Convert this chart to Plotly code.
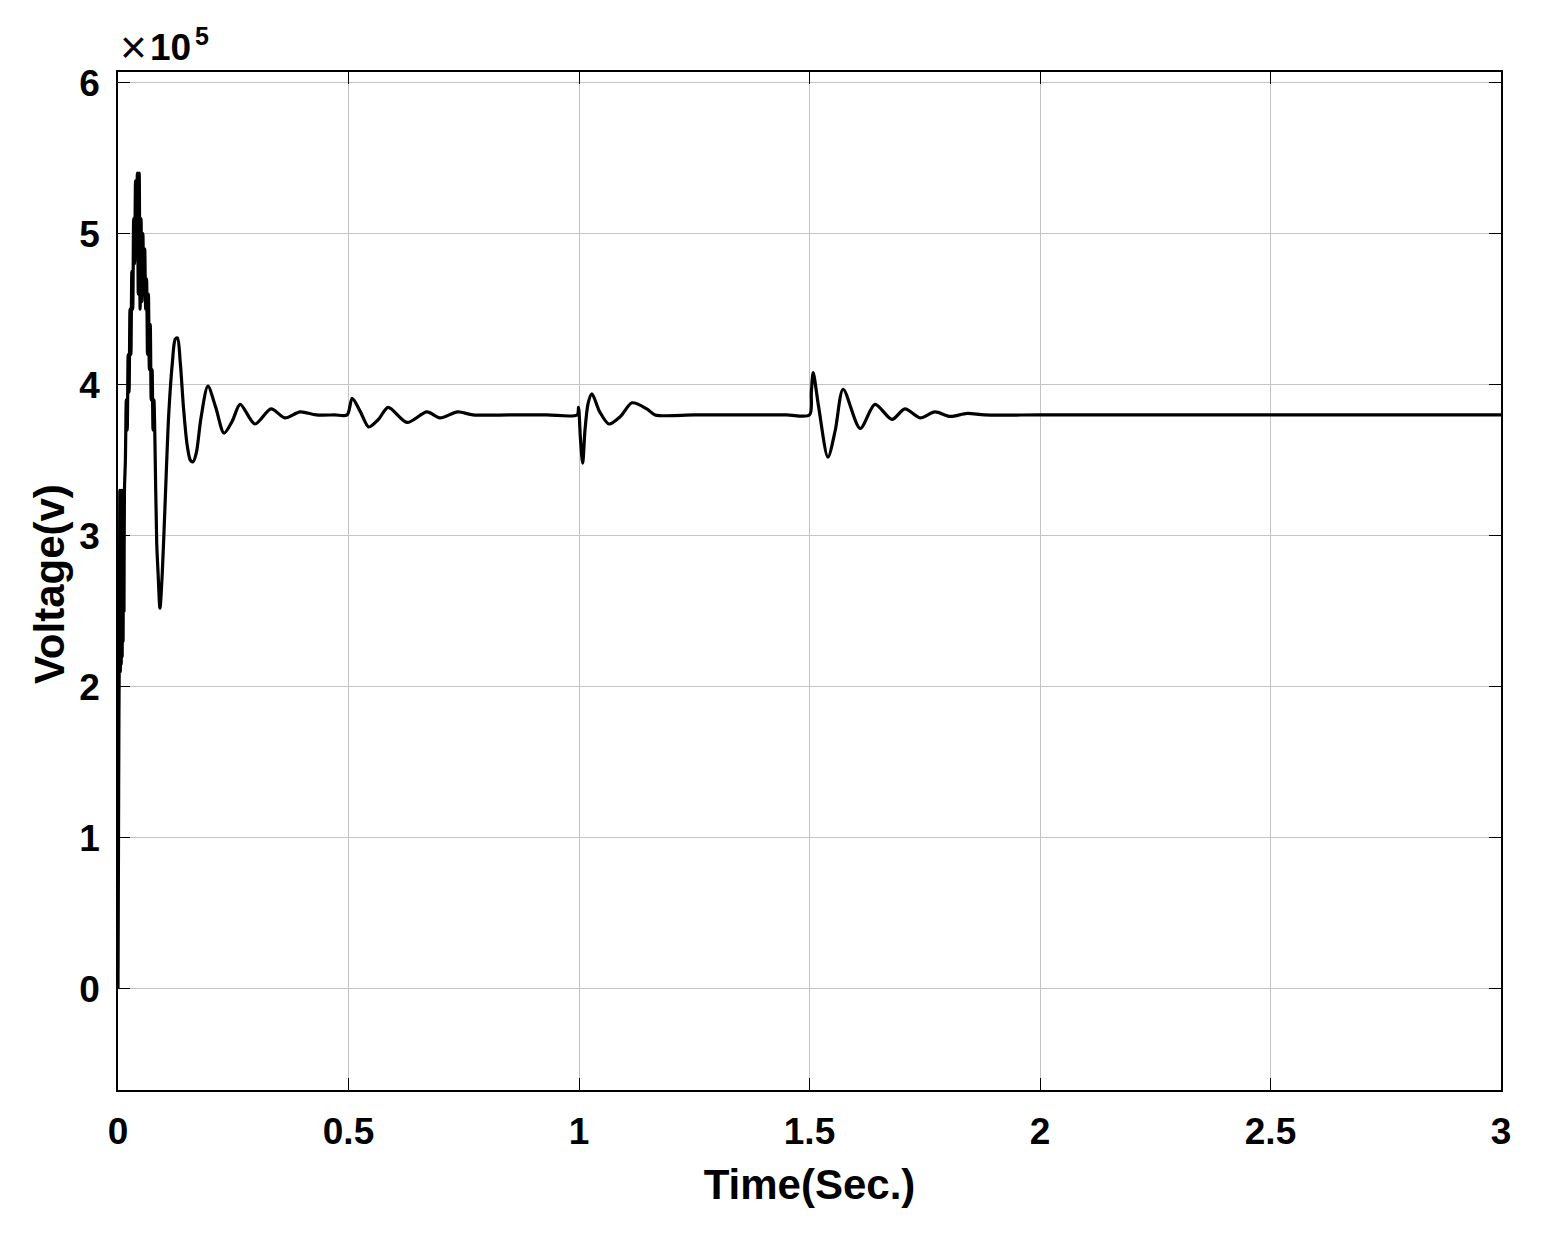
import plotly.graph_objects as go

# Time (s) and voltage (x1e5 V)
time_s = [
    0.000, 0.001, 0.002, 0.003, 0.004, 0.005, 0.006, 0.007, 0.008, 0.009, 0.010,
    0.011, 0.012, 0.013, 0.014, 0.016, 0.018, 0.020, 0.022, 0.024, 0.026, 0.028,
    0.030, 0.032, 0.034, 0.036, 0.038, 0.040, 0.042, 0.044, 0.046, 0.048, 0.050,
    0.052, 0.054, 0.056, 0.058, 0.060, 0.062, 0.064, 0.066, 0.068, 0.070, 0.072,
    0.074, 0.076, 0.078, 0.080, 0.084, 0.087, 0.091, 0.096,
    0.102, 0.110, 0.118, 0.124, 0.129, 0.135, 0.142, 0.150, 0.157, 0.163, 0.170,
    0.180, 0.195, 0.212, 0.230, 0.248, 0.265, 0.297, 0.332, 0.362, 0.395, 0.430,
    0.470, 0.497, 0.508, 0.526, 0.544, 0.565, 0.586, 0.627, 0.670, 0.698, 0.737,
    0.770, 0.850, 0.930, 0.996, 0.999, 1.003, 1.008, 1.013, 1.020, 1.028, 1.045,
    1.065, 1.090, 1.115, 1.147, 1.165, 1.250, 1.350, 1.450, 1.500, 1.504, 1.508,
    1.520, 1.540, 1.556, 1.573, 1.610, 1.642, 1.679, 1.707, 1.740, 1.772, 1.805,
    1.842, 1.880, 2.000, 2.200, 2.400, 2.600, 2.800, 3.000,
]
voltage_e5 = [
    0.00, 0.90, 1.80, 2.30, 3.30, 2.10, 3.25, 2.15, 3.30, 2.20, 3.20,
    2.30, 3.30, 2.50, 3.30, 3.50, 3.90, 3.70, 4.20, 3.95, 4.50, 4.20,
    4.75, 4.50, 5.10, 4.80, 5.35, 4.90, 5.40, 4.60, 5.40, 4.50, 5.10,
    4.55, 5.00, 4.60, 4.90, 4.50, 4.70, 4.20, 4.60, 4.10, 4.40, 3.90,
    4.10, 3.70, 3.90, 3.65, 2.95, 2.75, 2.52, 2.75,
    3.20, 3.80, 4.15, 4.30, 4.31, 4.15, 3.85, 3.60, 3.50, 3.49, 3.55,
    3.78, 3.99, 3.85, 3.68, 3.76, 3.87, 3.74, 3.84, 3.78, 3.82, 3.80,
    3.80, 3.80, 3.91, 3.82, 3.72, 3.77, 3.85, 3.75, 3.82, 3.78, 3.82,
    3.80, 3.80, 3.80, 3.80, 3.85, 3.65, 3.48, 3.70, 3.88, 3.94, 3.82,
    3.74, 3.79, 3.88, 3.84, 3.80, 3.80, 3.80, 3.80, 3.80, 3.95, 4.08,
    3.85, 3.52, 3.70, 3.97, 3.71, 3.87, 3.77, 3.84, 3.78, 3.82, 3.79,
    3.81, 3.80, 3.80, 3.80, 3.80, 3.80, 3.80, 3.80,
]
x_ticks = [0, 0.5, 1, 1.5, 2, 2.5, 3]
x_tick_labels = ["0", "0.5", "1", "1.5", "2", "2.5", "3"]
y_ticks = [0, 1, 2, 3, 4, 5, 6]
y_tick_labels = ["0", "1", "2", "3", "4", "5", "6"]

FONT = "Liberation Sans, Arial, sans-serif"

fig = go.Figure()
fig.add_trace(go.Scatter(
    x=time_s, y=voltage_e5, mode="lines",
    line=dict(color="black", width=3.2, shape="spline", smoothing=0.8),
    showlegend=False,
))

axis_common = dict(
    showline=True, linecolor="black", linewidth=1.5, mirror="ticks",
    ticks="inside", ticklen=12, tickwidth=1.2, tickcolor="black",
    showgrid=True, gridcolor="#c4c4c4", gridwidth=1, zeroline=False,
    tickfont=dict(family=FONT, size=37, color="black", weight="bold"),
)

fig.update_layout(
    width=1554, height=1233,
    margin=dict(l=110, r=61, t=64, b=151),
    paper_bgcolor="white", plot_bgcolor="white",
    xaxis=dict(
        range=[0, 3], tickvals=x_ticks, ticktext=x_tick_labels,
        ticklabelstandoff=8,
        title=dict(text="Time(Sec.)", standoff=18,
                   font=dict(family=FONT, size=42, color="black", weight="bold")),
        **axis_common,
    ),
    yaxis=dict(
        range=[-0.669, 6.07], tickvals=y_ticks, ticktext=y_tick_labels,
        ticklabelstandoff=9,
        **axis_common,
    ),
    annotations=[
        dict(text="<b>Voltage(v)</b>", xref="paper", yref="paper",
             x=0.0, y=0.497, xanchor="center", yanchor="middle",
             xshift=-69, textangle=-90, showarrow=False,
             font=dict(family=FONT, size=42, color="black")),
        dict(text="×", xref="paper", yref="paper",
             x=0.0, y=1.0, xanchor="left", yanchor="middle",
             xshift=0, yshift=25, showarrow=False,
             font=dict(family=FONT, size=46, color="black")),
        dict(text="<b>10</b>", xref="paper", yref="paper",
             x=0.0, y=1.0, xanchor="left", yanchor="middle",
             xshift=30, yshift=25, showarrow=False,
             font=dict(family=FONT, size=37, color="black")),
        dict(text="<b>5</b>", xref="paper", yref="paper",
             x=0.0, y=1.0, xanchor="left", yanchor="middle",
             xshift=75, yshift=36, showarrow=False,
             font=dict(family=FONT, size=25, color="black")),
    ],
)

fig.write_html("out.html")
